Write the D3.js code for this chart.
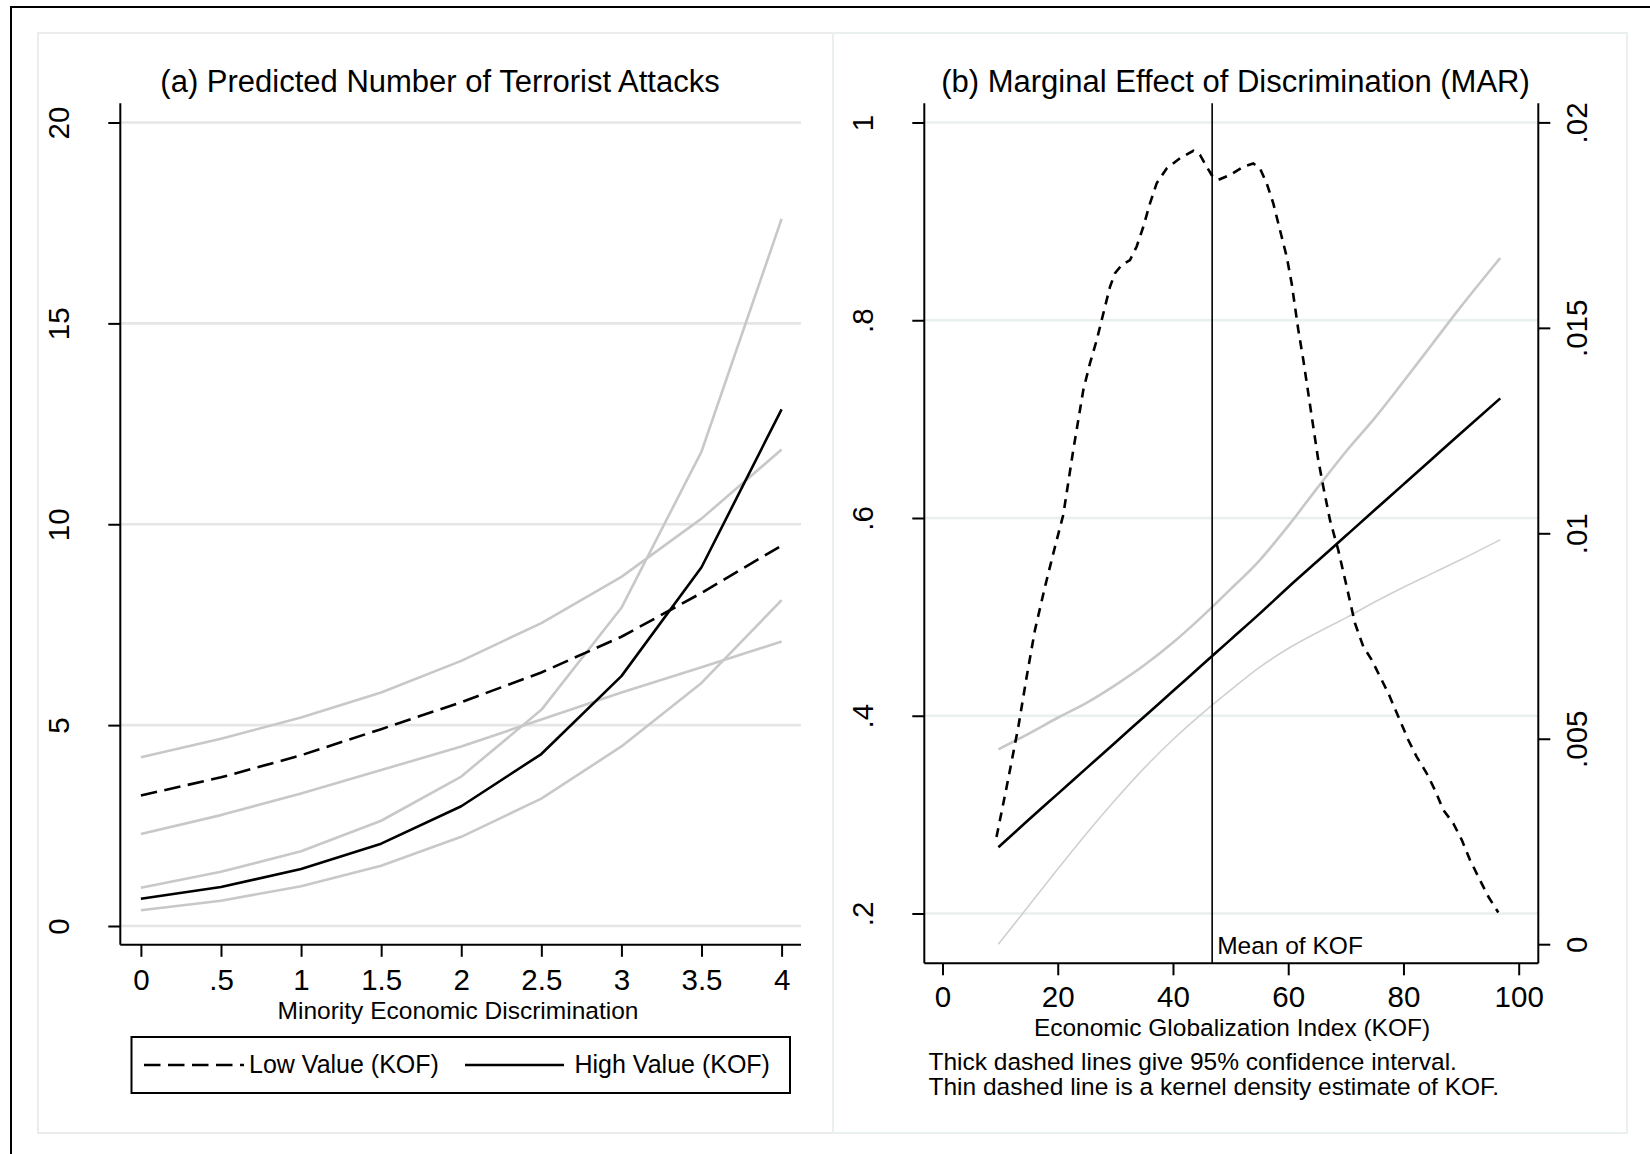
<!DOCTYPE html>
<html>
<head>
<meta charset="utf-8">
<script src="https://cdn.jsdelivr.net/npm/d3@7"></script>
<style>
  html, body { margin: 0; padding: 0; background: #fff; }
  svg { display: block; }
  text { font-family: 'Liberation Sans', Arial, Helvetica, sans-serif; fill: #000; }
</style>
</head>
<body>
<svg id="chart" width="1650" height="1154"></svg>
<script>
// ---------------- DATA ----------------
// Panel (a)
const discr = [0, 0.5, 1, 1.5, 2, 2.5, 3, 3.5, 4];
const lowKOF      = [3.25, 3.70, 4.25, 4.90, 5.57, 6.31, 7.20, 8.29, 9.47];
const lowKOFUpper = [4.20, 4.66, 5.19, 5.81, 6.60, 7.54, 8.69, 10.14, 11.86];
const lowKOFLower = [2.29, 2.76, 3.30, 3.88, 4.47, 5.14, 5.81, 6.44, 7.08];
const highKOF      = [0.68, 0.97, 1.42, 2.05, 2.98, 4.28, 6.22, 8.93, 12.86];
const highKOFUpper = [0.95, 1.35, 1.86, 2.62, 3.72, 5.38, 7.92, 11.81, 17.60];
const highKOFLower = [0.39, 0.63, 0.99, 1.50, 2.22, 3.17, 4.47, 6.05, 8.11];
const xTicksA = [0, 0.5, 1, 1.5, 2, 2.5, 3, 3.5, 4];
const xTickLabelsA = ["0", ".5", "1", "1.5", "2", "2.5", "3", "3.5", "4"];
const yTicksA = [0, 5, 10, 15, 20];
const yTickLabelsA = ["0", "5", "10", "15", "20"];

// Panel (b)
const kof      = [9.7, 15, 20, 25, 30, 35, 40, 45, 50, 55, 60, 65, 70, 75, 80, 85, 90, 96.8];
const meEffect = [0.267, 0.295, 0.321, 0.347, 0.373, 0.399, 0.425, 0.451, 0.477, 0.503, 0.530, 0.556, 0.582, 0.608, 0.634, 0.660, 0.686, 0.721];
const meUpper  = [0.366, 0.382, 0.398, 0.413, 0.431, 0.451, 0.474, 0.500, 0.528, 0.557, 0.592, 0.630, 0.667, 0.701, 0.738, 0.776, 0.814, 0.863];
const meLower  = [0.169, 0.208, 0.245, 0.281, 0.315, 0.347, 0.376, 0.402, 0.426, 0.449, 0.468, 0.484, 0.499, 0.515, 0.530, 0.544, 0.558, 0.578];
const kdeX = [9.37, 11.14, 13.16, 14.61, 16.05, 17.79, 19.23, 20.96, 22.70, 24.44, 25.60, 26.76, 27.91, 29.07, 29.94, 31.10, 32.54, 33.70, 34.85, 36.01, 37.17, 38.91, 41.22, 43.53, 44.69, 45.85, 46.72, 47.86, 49.90, 52.20, 53.94, 55.10, 56.26, 57.41, 58.57, 59.74, 60.60, 61.75, 62.62, 63.48, 64.35, 65.22, 66.09, 67.25, 68.69, 70.15, 71.59, 73.03, 74.49, 75.93, 77.37, 79.10, 80.84, 82.30, 84.03, 85.47, 86.91, 88.65, 90.11, 91.55, 93.28, 94.72, 96.46];
const kdeY = [0.00261, 0.00383, 0.00529, 0.00651, 0.00765, 0.00870, 0.00951, 0.01045, 0.01203, 0.01349, 0.01414, 0.01470, 0.01535, 0.01600, 0.01633, 0.01653, 0.01665, 0.01698, 0.01746, 0.01803, 0.01852, 0.01888, 0.01913, 0.01931, 0.01921, 0.01892, 0.01872, 0.01860, 0.01872, 0.01892, 0.01900, 0.01888, 0.01852, 0.01803, 0.01738, 0.01673, 0.01608, 0.01495, 0.01422, 0.01341, 0.01259, 0.01178, 0.01113, 0.01032, 0.00959, 0.00870, 0.00781, 0.00724, 0.00692, 0.00651, 0.00611, 0.00554, 0.00497, 0.00456, 0.00416, 0.00375, 0.00327, 0.00294, 0.00254, 0.00205, 0.00156, 0.00116, 0.00077];
const meanKOF = 46.8;
const xTicksB = [0, 20, 40, 60, 80, 100];
const xTickLabelsB = ["0", "20", "40", "60", "80", "100"];
const yTicksB = [0.2, 0.4, 0.6, 0.8, 1];
const yTickLabelsB = [".2", ".4", ".6", ".8", "1"];
const y2TicksB = [0, 0.005, 0.01, 0.015, 0.02];
const y2TickLabelsB = ["0", ".005", ".01", ".015", ".02"];

// ---------------- DRAW ----------------
const svg = d3.select("#chart");
const FS_TICK = 29.5, FS_TITLE = 31, FS_LAB = 24.5;
const GRAY = "#c8c8c8";
const FONT = "'Liberation Sans', Arial, sans-serif";

// outer frame (left and top edges visible)
svg.append("path").attr("d", "M11,1154 L11,7 L1650,7")
  .attr("fill", "none").attr("stroke", "#000").attr("stroke-width", 2);
// panel borders
svg.append("rect").attr("x", 38).attr("y", 33).attr("width", 795).attr("height", 1100)
  .attr("fill", "none").attr("stroke", "#ececec").attr("stroke-width", 2);
svg.append("rect").attr("x", 833).attr("y", 33).attr("width", 794).attr("height", 1100)
  .attr("fill", "none").attr("stroke", "#eaf0f0").attr("stroke-width", 2);

// ========== Panel (a) ==========
const A = { x0: 120.3, x1: 801, y0: 103.3, y1: 944.8 };
const xA = d3.scaleLinear().domain([0, 4]).range([140.9, 781.6]);
const yA = d3.scaleLinear().domain([0, 20]).range([926, 122.5]);
const gA = svg.append("g");

gA.selectAll(".gridA").data(yTicksA).enter().append("line")
  .attr("x1", A.x0).attr("x2", A.x1)
  .attr("y1", d => yA(d)).attr("y2", d => yA(d))
  .attr("stroke", "#e6e6e6").attr("stroke-width", 2.7);

const lineA = (ys) => d3.line().x((d, i) => xA(discr[i])).y(d => yA(d))(ys);
[lowKOFUpper, lowKOFLower, highKOFUpper, highKOFLower].forEach(s => {
  gA.append("path").attr("d", lineA(s)).attr("fill", "none")
    .attr("stroke", GRAY).attr("stroke-width", 2.6).attr("stroke-linejoin", "round");
});
gA.append("path").attr("d", lineA(lowKOF)).attr("fill", "none")
  .attr("stroke", "#000").attr("stroke-width", 2.6).attr("stroke-dasharray", "16.5,7.5");
gA.append("path").attr("d", lineA(highKOF)).attr("fill", "none")
  .attr("stroke", "#000").attr("stroke-width", 2.6).attr("stroke-linejoin", "round");

const axAx = d3.axisBottom(xA).tickValues(xTicksA).tickSize(12).tickSizeOuter(0)
  .tickFormat((d, i) => xTickLabelsA[i]);
const gAx = gA.append("g").attr("transform", `translate(0,${A.y1})`).call(axAx);
gAx.select(".domain").remove();
gAx.selectAll(".tick line").attr("stroke", "#000").attr("stroke-width", 2);
gAx.selectAll(".tick text").attr("font-size", FS_TICK).attr("dy", null).attr("y", 45.5)
  .attr("font-family", FONT);
gA.append("line").attr("x1", A.x0).attr("x2", A.x1).attr("y1", A.y1).attr("y2", A.y1)
  .attr("stroke", "#000").attr("stroke-width", 2);

const ayAx = d3.axisLeft(yA).tickValues(yTicksA).tickSize(12).tickSizeOuter(0)
  .tickFormat((d, i) => yTickLabelsA[i]);
const gAy = gA.append("g").attr("transform", `translate(${A.x0},0)`).call(ayAx);
gAy.select(".domain").remove();
gAy.selectAll(".tick line").attr("stroke", "#000").attr("stroke-width", 2);
gAy.selectAll(".tick text").attr("font-size", FS_TICK).attr("dy", null)
  .attr("x", 0).attr("y", 0).attr("text-anchor", "middle")
  .attr("font-family", FONT)
  .attr("transform", "translate(-51,0) rotate(-90)");
gA.append("line").attr("x1", A.x0).attr("x2", A.x0).attr("y1", A.y0).attr("y2", A.y1)
  .attr("stroke", "#000").attr("stroke-width", 2);

gA.append("text").attr("x", 440).attr("y", 92).attr("text-anchor", "middle")
  .attr("font-size", FS_TITLE).text("(a) Predicted Number of Terrorist Attacks");
gA.append("text").attr("x", 458).attr("y", 1018.5).attr("text-anchor", "middle")
  .attr("font-size", FS_LAB).text("Minority Economic Discrimination");

// legend
gA.append("rect").attr("x", 131.5).attr("y", 1037).attr("width", 658.5).attr("height", 56)
  .attr("fill", "#fff").attr("stroke", "#000").attr("stroke-width", 2);
gA.append("line").attr("x1", 144).attr("x2", 244).attr("y1", 1065).attr("y2", 1065)
  .attr("stroke", "#000").attr("stroke-width", 2.6).attr("stroke-dasharray", "16.5,7.5");
gA.append("text").attr("x", 249).attr("y", 1073).attr("font-size", 25).text("Low Value (KOF)");
gA.append("line").attr("x1", 465).attr("x2", 564).attr("y1", 1065).attr("y2", 1065)
  .attr("stroke", "#000").attr("stroke-width", 2.6);
gA.append("text").attr("x", 574.5).attr("y", 1073).attr("font-size", 25).text("High Value (KOF)");

// ========== Panel (b) ==========
const B = { x0: 924.3, x1: 1538.3, y0: 103.3, y1: 963.3 };
const xB = d3.scaleLinear().domain([0, 100]).range([942.5, 1518.7]);
const yB = d3.scaleLinear().domain([0.2, 1]).range([913.5, 122.5]);
const yB2 = d3.scaleLinear().domain([0, 0.02]).range([944.2, 122.4]);
const gB = svg.append("g");

gB.selectAll(".gridB").data(yTicksB).enter().append("line")
  .attr("x1", B.x0).attr("x2", B.x1)
  .attr("y1", d => yB(d)).attr("y2", d => yB(d))
  .attr("stroke", "#e8f0f0").attr("stroke-width", 2.7);

const lineB = (ys) => d3.line().x((d, i) => xB(kof[i])).y(d => yB(d)).curve(d3.curveMonotoneX)(ys);
gB.append("path").attr("d", lineB(meUpper)).attr("fill", "none")
  .attr("stroke", GRAY).attr("stroke-width", 2.6);
gB.append("path").attr("d", lineB(meLower)).attr("fill", "none")
  .attr("stroke", "#d0d0d0").attr("stroke-width", 1.6);
gB.append("path").attr("d", lineB(meEffect)).attr("fill", "none")
  .attr("stroke", "#000").attr("stroke-width", 2.6);

const kdeLine = d3.line().x((d, i) => xB(kdeX[i])).y(d => yB2(d));
gB.append("path").attr("d", kdeLine(kdeY)).attr("fill", "none")
  .attr("stroke", "#000").attr("stroke-width", 2.6).attr("stroke-dasharray", "9,7");

gB.append("line").attr("x1", xB(meanKOF)).attr("x2", xB(meanKOF))
  .attr("y1", B.y0).attr("y2", B.y1).attr("stroke", "#000").attr("stroke-width", 1.6);
gB.append("text").attr("x", xB(meanKOF) + 5).attr("y", 954).attr("font-size", 24.5).text("Mean of KOF");

const bxAx = d3.axisBottom(xB).tickValues(xTicksB).tickSize(12).tickSizeOuter(0)
  .tickFormat((d, i) => xTickLabelsB[i]);
const gBx = gB.append("g").attr("transform", `translate(0,${B.y1})`).call(bxAx);
gBx.select(".domain").remove();
gBx.selectAll(".tick line").attr("stroke", "#000").attr("stroke-width", 2);
gBx.selectAll(".tick text").attr("font-size", FS_TICK).attr("dy", null).attr("y", 44)
  .attr("font-family", FONT);
gB.append("line").attr("x1", B.x0).attr("x2", B.x1).attr("y1", B.y1).attr("y2", B.y1)
  .attr("stroke", "#000").attr("stroke-width", 2);

const byAx = d3.axisLeft(yB).tickValues(yTicksB).tickSize(12).tickSizeOuter(0)
  .tickFormat((d, i) => yTickLabelsB[i]);
const gBy = gB.append("g").attr("transform", `translate(${B.x0},0)`).call(byAx);
gBy.select(".domain").remove();
gBy.selectAll(".tick line").attr("stroke", "#000").attr("stroke-width", 2);
gBy.selectAll(".tick text").attr("font-size", FS_TICK).attr("dy", null)
  .attr("x", 0).attr("y", 0).attr("text-anchor", "middle")
  .attr("font-family", FONT)
  .attr("transform", "translate(-51,0) rotate(-90)");
gB.append("line").attr("x1", B.x0).attr("x2", B.x0).attr("y1", B.y0).attr("y2", B.y1)
  .attr("stroke", "#000").attr("stroke-width", 2);

const by2Ax = d3.axisRight(yB2).tickValues(y2TicksB).tickSize(12).tickSizeOuter(0)
  .tickFormat((d, i) => y2TickLabelsB[i]);
const gBy2 = gB.append("g").attr("transform", `translate(${B.x1},0)`).call(by2Ax);
gBy2.select(".domain").remove();
gBy2.selectAll(".tick line").attr("stroke", "#000").attr("stroke-width", 2);
gBy2.selectAll(".tick text").attr("font-size", FS_TICK).attr("dy", null)
  .attr("x", 0).attr("y", 0).attr("text-anchor", "middle")
  .attr("font-family", FONT)
  .attr("transform", "translate(49,0) rotate(-90)");
gB.append("line").attr("x1", B.x1).attr("x2", B.x1).attr("y1", B.y0).attr("y2", B.y1)
  .attr("stroke", "#000").attr("stroke-width", 2);

gB.append("text").attr("x", 1235.5).attr("y", 92).attr("text-anchor", "middle")
  .attr("font-size", FS_TITLE).text("(b) Marginal Effect of Discrimination (MAR)");
gB.append("text").attr("x", 1232).attr("y", 1036).attr("text-anchor", "middle")
  .attr("font-size", FS_LAB).text("Economic Globalization Index (KOF)");
gB.append("text").attr("x", 928.5).attr("y", 1070).attr("font-size", 24.5)
  .text("Thick dashed lines give 95% confidence interval.");
gB.append("text").attr("x", 928.5).attr("y", 1095).attr("font-size", 24.5)
  .text("Thin dashed line is a kernel density estimate of KOF.");
</script>
</body>
</html>
